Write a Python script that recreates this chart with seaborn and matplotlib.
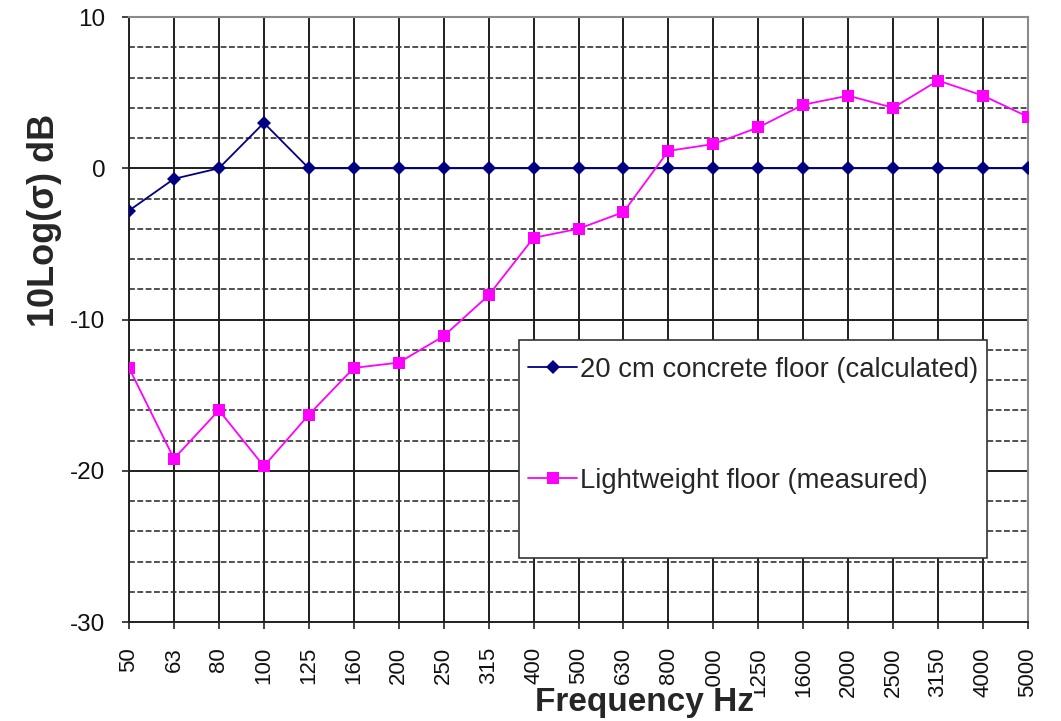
import matplotlib
matplotlib.use("Agg")
import matplotlib.pyplot as plt
from matplotlib.patches import Rectangle
from matplotlib.ticker import MultipleLocator
import pandas as pd
import seaborn as sns

# One-third-octave band centre frequencies
freqs = ["50", "63", "80", "100", "125", "160", "200", "250", "315", "400",
         "500", "630", "800", "1000", "1250", "1600", "2000", "2500", "3150",
         "4000", "5000"]

# Radiation efficiency, 10·log10(σ) in dB
concrete_calc = [-2.8, -0.7, 0.0, 3.0, 0.0, 0.0, 0.0, 0.0, 0.0, 0.0,
                 0.0, 0.0, 0.0, 0.0, 0.0, 0.0, 0.0, 0.0, 0.0, 0.0, 0.0]
lightweight_meas = [-13.2, -19.2, -16.0, -19.7, -16.3, -13.2, -12.85, -11.1,
                    -8.4, -4.6, -4.0, -2.9, 1.15, 1.6, 2.7, 4.2, 4.8, 4.0,
                    5.8, 4.8, 3.4]

label_concrete = "20 cm concrete floor (calculated)"
label_light = "Lightweight floor (measured)"

df = pd.DataFrame({"freq": freqs, "concrete": concrete_calc,
                   "light": lightweight_meas})

sns.set_style("ticks")
plt.rcParams["font.family"] = ["Liberation Sans", "DejaVu Sans"]
plt.rcParams["axes.unicode_minus"] = False

fig = plt.figure(figsize=(10.61, 7.21), dpi=100)
ax = fig.add_axes([0.1216, 0.1373, 0.8473, 0.8391])

sns.lineplot(data=df, x="freq", y="concrete", sort=False, ax=ax,
             color="#000080", lw=1.3, marker="D", markersize=7,
             markeredgewidth=0, label=label_concrete, zorder=4)
sns.lineplot(data=df, x="freq", y="light", sort=False, ax=ax,
             color="#ff00ff", lw=1.3, marker="s", markersize=9,
             markeredgewidth=0, label=label_light, zorder=4)

ax.set_xlim(0, len(freqs) - 1)
ax.set_ylim(-30, 10)
ax.yaxis.set_major_locator(MultipleLocator(10))
ax.yaxis.set_minor_locator(MultipleLocator(2))

# Grid: solid verticals and decades, dashed 2 dB lines
ax.set_axisbelow(True)
ax.grid(True, which="major", axis="both", color="#1e1e1e", lw=1.4)
ax.grid(True, which="minor", axis="y", color="#333333", lw=1.2,
        linestyle=(0, (3.5, 1.5)))

ax.tick_params(axis="y", which="major", direction="out", length=5,
               width=1.2, color="#222222", labelsize=17.5, pad=12,
               labelcolor="#111111")
ax.tick_params(axis="y", which="minor", length=0)
ax.tick_params(axis="x", which="major", direction="out", length=5,
               width=1.2, color="#222222", labelsize=16, pad=13,
               labelrotation=90, labelcolor="#111111")

for side in ("left", "bottom"):
    ax.spines[side].set_color("#222222")
    ax.spines[side].set_linewidth(1.4)
for side in ("top", "right"):
    ax.spines[side].set_visible(True)
    ax.spines[side].set_color("#8a8a8a")
    ax.spines[side].set_linewidth(1.5)

ax.set_ylabel("10Log(σ) dB", fontsize=26, fontweight="bold")
ax.yaxis.set_label_coords(-0.074, 0.663)
ax.set_xlabel("Frequency Hz", fontsize=24, fontweight="bold",
              bbox=dict(facecolor="white", edgecolor="none", pad=0))
ax.xaxis.set_label_coords(0.573, -0.108)

# Legend box
ax.add_patch(Rectangle((0.434, 0.106), 0.52, 0.36, transform=ax.transAxes,
                       facecolor="white", edgecolor="#333333", lw=1.2,
                       zorder=5))
handles, labels = ax.get_legend_handles_labels()
leg = ax.legend(handles, labels, loc="upper left",
                bbox_to_anchor=(0.426, 0.466), borderaxespad=0,
                frameon=False, fontsize=19.8, borderpad=0.6,
                handlelength=1.75, handletextpad=0.12, labelspacing=3.1)
leg.set_zorder(6)

fig.savefig("out.png", dpi=100, facecolor="white")
